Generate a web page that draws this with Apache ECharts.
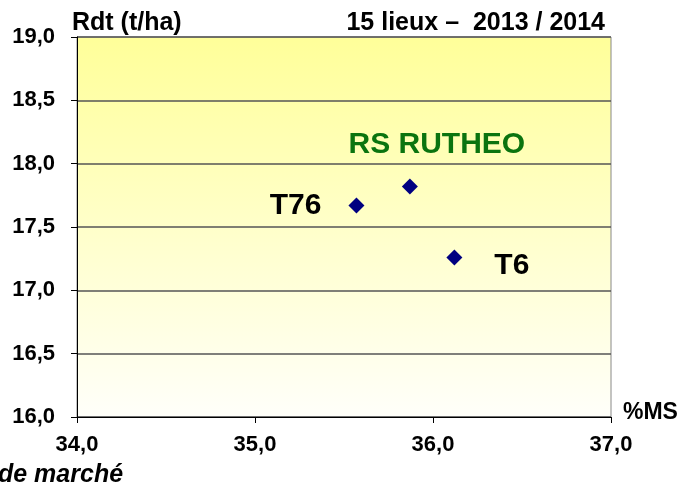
<!DOCTYPE html>
<html>
<head>
<meta charset="utf-8">
<script src="https://cdn.jsdelivr.net/npm/echarts@6/dist/echarts.min.js"></script>
<style>
  html, body { margin: 0; padding: 0; background: #fff; }
  #chart { width: 689px; height: 496px; }
</style>
</head>
<body>
<div id="chart"></div>
<script>
// varieties and their values
const names = ['T76', 'RS RUTHEO', 'T6'];
const msValues = [35.57, 35.87, 36.12];
const rdtValues = [17.67, 17.82, 17.26];
const xTicks = [34, 35, 36, 37];
const yTicks = [16, 16.5, 17, 17.5, 18, 18.5, 19];

const FONT = '"Liberation Sans", Arial, sans-serif';

// label placement per point
const labelStyles = [
  { position: 'left', distance: 27, offset: [0, 0], color: '#000' },
  { position: 'top', distance: 19, offset: [27, 0], color: '#0b740f' },
  { position: 'right', distance: 32, offset: [0, 8], color: '#000' }
];

const points = names.map((n, i) => ({
  name: n,
  value: [msValues[i], rdtValues[i]],
  label: Object.assign({
    show: true,
    formatter: n,
    fontFamily: FONT,
    fontWeight: 'bold',
    fontSize: 30
  }, labelStyles[i])
}));

const fmt = v => v.toFixed(1).replace('.', ',');

const chart = echarts.init(document.getElementById('chart'));
chart.setOption({
  animation: false,
  grid: {
    left: 77, right: 78, top: 37, bottom: 79,
    show: true,
    borderColor: '#888',
    borderWidth: 1,
    backgroundColor: {
      type: 'linear', x: 0, y: 0, x2: 0, y2: 1,
      colorStops: [
        { offset: 0, color: '#ffff99' },
        { offset: 1, color: '#fffffa' }
      ]
    }
  },
  xAxis: {
    type: 'value',
    min: xTicks[0],
    max: xTicks[xTicks.length - 1],
    interval: 1,
    name: '%MS',
    nameLocation: 'end',
    nameGap: 12,
    nameTextStyle: {
      fontFamily: FONT, fontWeight: 'bold', fontSize: 23, color: '#000',
      verticalAlign: 'bottom', padding: [0, 0, -7, 0]
    },
    axisLine: { show: true, lineStyle: { color: '#000', width: 1 } },
    axisTick: { show: true, length: 6, lineStyle: { color: '#000' } },
    splitLine: { show: false },
    axisLabel: {
      fontFamily: FONT, fontWeight: 'bold', fontSize: 22, color: '#000',
      margin: 17, formatter: fmt
    }
  },
  yAxis: {
    type: 'value',
    min: yTicks[0],
    max: yTicks[yTicks.length - 1],
    interval: 0.5,
    axisLine: { show: true, lineStyle: { color: '#000', width: 1 } },
    axisTick: { show: true, length: 6, lineStyle: { color: '#000' } },
    splitLine: { show: true, lineStyle: { color: '#555', width: 1.5 } },
    axisLabel: {
      fontFamily: FONT, fontWeight: 'bold', fontSize: 22, color: '#000',
      margin: 22, formatter: fmt
    }
  },
  series: [{
    type: 'scatter',
    symbol: 'diamond',
    symbolSize: [16, 16],
    itemStyle: { color: '#000080', opacity: 1 },
    emphasis: { disabled: true },
    data: points
  }],
  graphic: [
    {
      type: 'text', left: 72, top: 11,
      style: { text: 'Rdt (t/ha)', font: 'bold 25px ' + FONT, fill: '#000' }
    },
    {
      type: 'text', right: 84, top: 11,
      style: { text: '15 lieux \u2013  2013 / 2014', font: 'bold 25px ' + FONT, fill: '#000' }
    },
    {
      type: 'text', left: -2, top: 463,
      style: { text: 'de marché', font: 'italic bold 25px ' + FONT, fill: '#000' }
    }
  ]
});
</script>
</body>
</html>
